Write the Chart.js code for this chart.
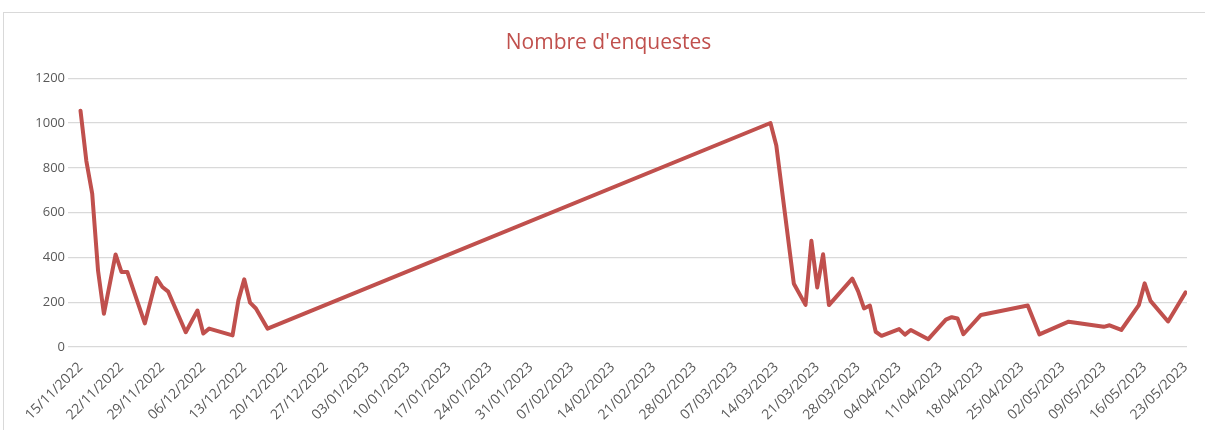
<!DOCTYPE html>
<html>
<head>
<meta charset="utf-8">
<script src="https://cdn.jsdelivr.net/npm/chart.js@4/dist/chart.umd.min.js"></script>
<style>
  html, body { margin: 0; padding: 0; background: #fff; overflow: hidden; }
  #wrap { position: relative; width: 1205px; height: 430px; }
  #frame { position: absolute; left: 3px; top: 12px; width: 1210px; height: 430px; border: 1px solid #d9d9d9; box-sizing: border-box; pointer-events: none; }
</style>
</head>
<body>
<div id="wrap">
  <canvas id="chart" width="1205" height="430"></canvas>
  <div id="frame"></div>
</div>
<script>
// survey dates (dd/mm/yyyy) and number of surveys on each of them
var dates = ['15/11/2022', '16/11/2022', '17/11/2022', '18/11/2022', '19/11/2022', '21/11/2022',
  '22/11/2022', '23/11/2022', '26/11/2022', '28/11/2022', '29/11/2022', '30/11/2022', '03/12/2022',
  '05/12/2022', '06/12/2022', '07/12/2022', '11/12/2022', '12/12/2022', '13/12/2022', '14/12/2022',
  '15/12/2022', '17/12/2022', '13/03/2023', '14/03/2023', '17/03/2023', '19/03/2023', '20/03/2023',
  '21/03/2023', '22/03/2023', '23/03/2023', '27/03/2023', '28/03/2023', '29/03/2023', '30/03/2023',
  '31/03/2023', '01/04/2023', '04/04/2023', '05/04/2023', '06/04/2023', '09/04/2023', '12/04/2023',
  '13/04/2023', '14/04/2023', '15/04/2023', '18/04/2023', '26/04/2023', '28/04/2023', '03/05/2023',
  '09/05/2023', '10/05/2023', '12/05/2023', '15/05/2023', '16/05/2023', '17/05/2023', '20/05/2023',
  '23/05/2023'];
var enquestes = [1055, 830, 685, 340, 148, 413, 335, 335, 105, 308, 268, 247, 66, 163, 60, 82, 52,
  208, 302, 198, 172, 82, 1000, 900, 282, 188, 474, 266, 414, 187, 305, 248, 172, 185, 68, 50, 80,
  55, 76, 35, 122, 133, 127, 57, 143, 185, 56, 113, 90, 97, 76, 187, 284, 206, 114, 244];

// weekly labels of the date axis
var tickLabels = ['15/11/2022', '22/11/2022', '29/11/2022', '06/12/2022', '13/12/2022', '20/12/2022',
  '27/12/2022', '03/01/2023', '10/01/2023', '17/01/2023', '24/01/2023', '31/01/2023', '07/02/2023',
  '14/02/2023', '21/02/2023', '28/02/2023', '07/03/2023', '14/03/2023', '21/03/2023', '28/03/2023',
  '04/04/2023', '11/04/2023', '18/04/2023', '25/04/2023', '02/05/2023', '09/05/2023', '16/05/2023',
  '23/05/2023'];
var yTicks = [0, 200, 400, 600, 800, 1000, 1200];

var DAY = 86400000;
var FONT = "'Open Sans', 'Liberation Sans', sans-serif";

function parseDate(s) {
  var p = s.split('/');
  return Date.UTC(+p[2], +p[1] - 1, +p[0]);
}

var points = dates.map(function (d, i) {
  return { x: parseDate(d), y: enquestes[i] };
});

var ctx = document.getElementById('chart').getContext('2d');

new Chart(ctx, {
  type: 'line',
  data: {
    datasets: [{
      data: points,
      borderColor: '#c0504d',
      borderWidth: 4,
      borderJoinStyle: 'round',
      borderCapStyle: 'round',
      pointRadius: 0,
      tension: 0,
      fill: false
    }]
  },
  options: {
    responsive: false,
    animation: false,
    // left padding keeps the title roughly centred like the original frame
    layout: { padding: { left: 30, right: 18, top: 0, bottom: 0 } },
    plugins: {
      legend: { display: false },
      tooltip: { enabled: false },
      title: {
        display: true,
        text: "Nombre d'enquestes",
        color: '#c0504d',
        font: { family: FONT, size: 21, weight: 'normal' },
        padding: { top: 30, bottom: 23 }
      }
    },
    scales: {
      x: {
        type: 'linear',
        min: parseDate(tickLabels[0]) - 2.14 * DAY,
        max: parseDate(tickLabels[tickLabels.length - 1]) + 0.24 * DAY,
        afterBuildTicks: function (scale) {
          scale.ticks = tickLabels.map(function (t) { return { value: parseDate(t) }; });
        },
        afterFit: function (scale) { scale.height = 83; },
        ticks: {
          autoSkip: false,
          minRotation: 45,
          maxRotation: 45,
          padding: 4,
          color: '#595959',
          font: { family: FONT, size: 14 },
          callback: function (value, index) { return tickLabels[index]; }
        },
        grid: { display: false },
        border: { display: false }
      },
      y: {
        min: 0,
        max: 1200,
        afterBuildTicks: function (scale) {
          scale.ticks = yTicks.map(function (v) { return { value: v }; });
        },
        afterFit: function (scale) { scale.width = 38; },
        ticks: {
          padding: 3,
          color: '#595959',
          font: { family: FONT, size: 13 },
          callback: function (value) { return String(value); }
        },
        grid: { color: '#d9d9d9', lineWidth: 1.3, drawTicks: false },
        border: { display: false }
      }
    }
  }
});
</script>
</body>
</html>
